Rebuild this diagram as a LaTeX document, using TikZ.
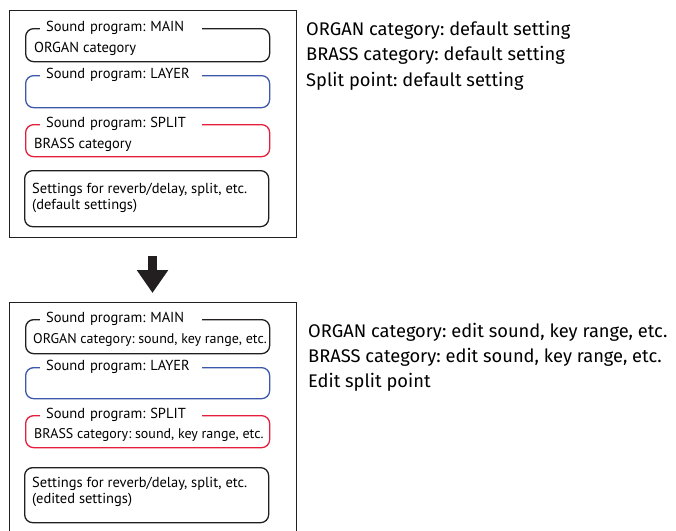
\documentclass[tikz,border=0pt]{standalone}
\usepackage{fontspec}
\setmainfont{PT Sans}
\newfontfamily\notefont{Fira Sans}
\usetikzlibrary{positioning, arrows.meta}
\frenchspacing

\definecolor{ink}{RGB}{35,31,32}
\definecolor{layerblue}{RGB}{60,88,170}
\definecolor{splitred}{RGB}{228,30,60}

\begin{document}
\begin{tikzpicture}[
  x=1pt, y=-1pt,
  font=\fontsize{14.5}{16}\selectfont,
  panel/.style={draw=ink, line width=1.3pt, anchor=north west, inner sep=0pt},
  slot/.style={line width=1.3pt, rounded corners=8pt, anchor=north west,
               minimum width=244pt, inner sep=0pt},
  slottitle/.style={fill=white, anchor=west, inner xsep=6pt, inner ysep=1pt,
                    text width=150pt, align=left},
  slottext/.style={anchor=base west, inner sep=0pt},
  longtext/.style={slottext, font=\fontsize{14}{16}\selectfont},
  note/.style={anchor=base west, inner sep=0pt,
               font=\notefont\fontsize{18.3}{20}\selectfont}
]
  \useasboundingbox (0,0) rectangle (676,530);

  % --- Before editing ---
  \node[panel, minimum width=287pt, minimum height=227pt] (before) at (9,10) {};

  \node[slot, draw=ink, minimum height=33pt] (mainA) at (25,28) {};
  \node[slottitle] (mainAt) at ([xshift=15pt]mainA.north west) {Sound program: MAIN};
  \node[slottext] (mainAx) at (34,52) {ORGAN category};

  \node[slot, draw=layerblue, minimum height=32pt] (layerA) at (25,75) {};
  \node[slottitle] (layerAt) at ([xshift=15pt]layerA.north west) {Sound program: LAYER};

  \node[slot, draw=splitred, minimum height=32pt] (splitA) at (25,124) {};
  \node[slottitle] (splitAt) at ([xshift=15pt]splitA.north west) {Sound program: SPLIT};
  \node[slottext] (splitAx) at (34,148) {BRASS category};

  \node[slot, draw=ink, minimum height=56pt] (fxA) at (24,170) {};
  \node[slottext] (fxAx1) at (32,193) {Settings for reverb/delay, split, etc.};
  \node[slottext] (fxAx2) at (32,209) {(default settings)};

  \node[note] (noteA1) at (306,35) {ORGAN category: default setting};
  \node[note] (noteA2) at (306,60) {BRASS category: default setting};
  \node[note] (noteA3) at (306,86) {Split point: default setting};

  % --- After editing (bottom edge runs off the page) ---
  \node[panel, minimum width=287pt, minimum height=240pt] (after) at (9,302) {};

  \node[slot, draw=ink, minimum height=34pt] (mainB) at (25,319) {};
  \node[slottitle] (mainBt) at ([xshift=15pt]mainB.north west) {Sound program: MAIN};
  \node[longtext] (mainBx) at (33,343) {ORGAN category: sound, key range, etc.};

  \node[slot, draw=layerblue, minimum height=31pt] (layerB) at (25,367) {};
  \node[slottitle] (layerBt) at ([xshift=15pt]layerB.north west) {Sound program: LAYER};

  \node[slot, draw=splitred, minimum height=32pt] (splitB) at (25,415) {};
  \node[slottitle] (splitBt) at ([xshift=15pt]splitB.north west) {Sound program: SPLIT};
  \node[longtext] (splitBx) at (34,438) {BRASS category: sound, key range, etc.};

  \node[slot, draw=ink, minimum height=55pt] (fxB) at (24,467) {};
  \node[slottext] (fxBx1) at (32,487) {Settings for reverb/delay, split, etc.};
  \node[slottext] (fxBx2) at (32,503) {(edited settings)};

  \node[note] (noteB1) at (308,337) {ORGAN category: edit sound, key range, etc.};
  \node[note] (noteB2) at (308,362) {BRASS category: edit sound, key range, etc.};
  \node[note] (noteB3) at (308,387) {Edit split point};

  % --- Transition arrow ---
  \draw[ink, line width=9pt, shorten <=18pt, shorten >=9pt,
        -{Triangle[length=23pt, width=30pt]}]
    (before.south -| 152.5,0) -- (after.north -| 152.5,0);
\end{tikzpicture}
\end{document}
